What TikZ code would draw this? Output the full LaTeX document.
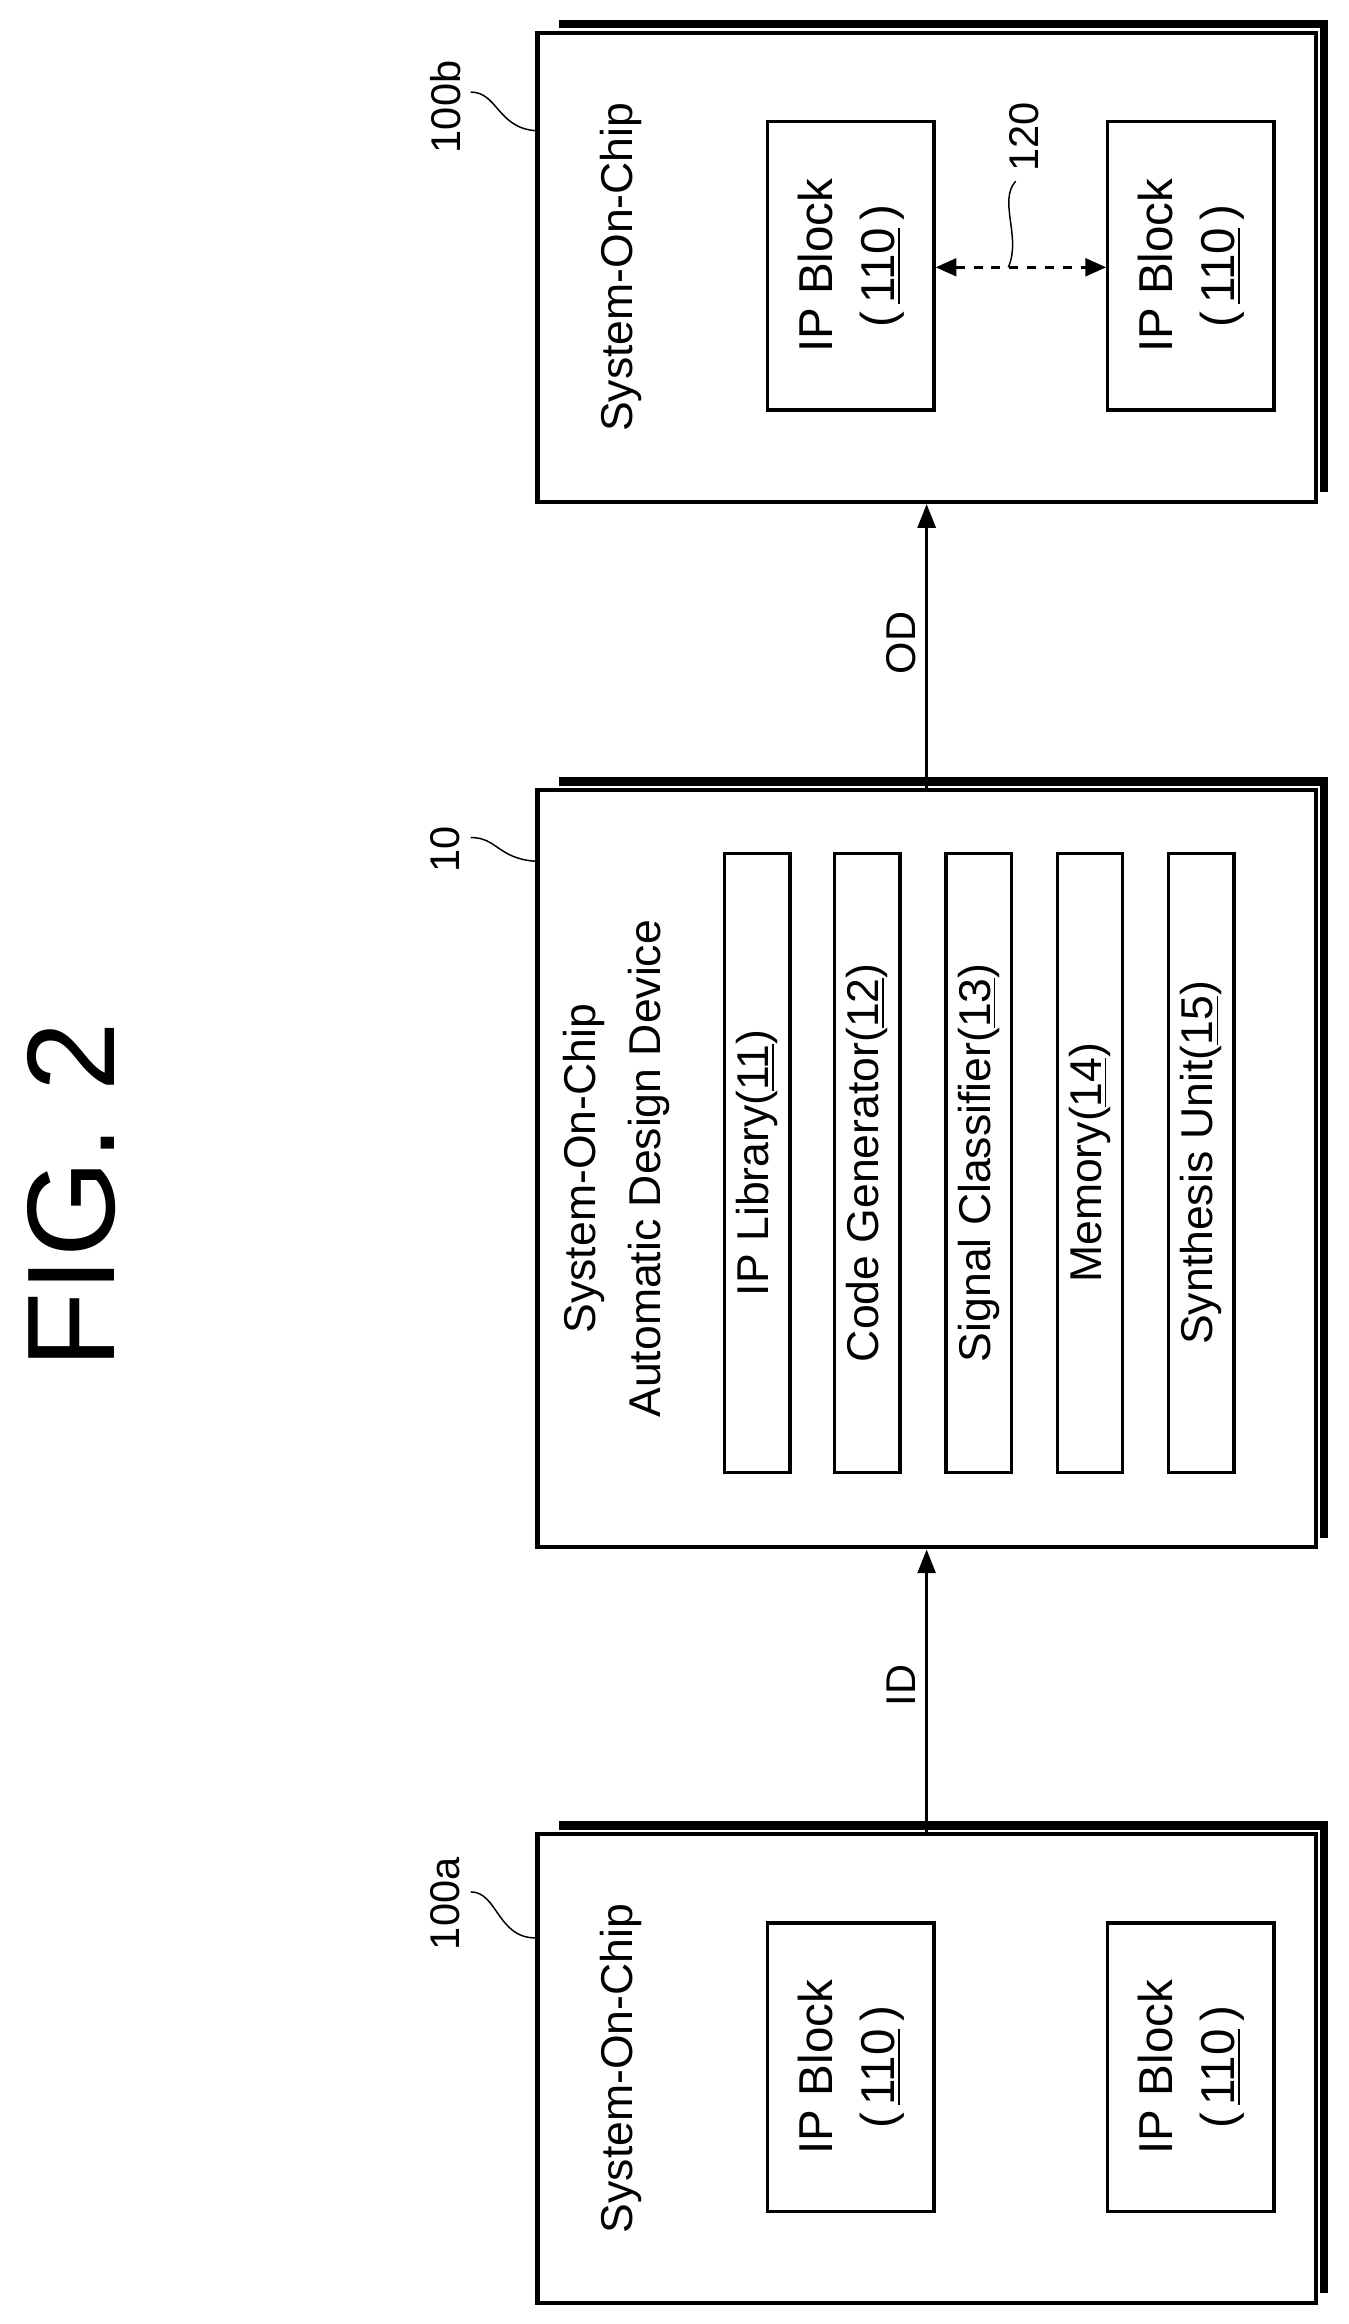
\documentclass[tikz,border=0pt]{standalone}
\usepackage{fontspec}
\setmainfont{Liberation Sans}
\usetikzlibrary{arrows.meta}
\begin{document}
\begin{tikzpicture}[x=0.5pt,y=-0.5pt,
  box/.style={draw,line width=1.4pt},
  shadow/.style={line width=2.8pt},
  inner/.style={draw,line width=1.1pt,inner sep=0pt},
  lbl/.style={rotate=90,font=\fontsize{15}{17}\selectfont},
  ref/.style={rotate=90,font=\fontsize{14}{16}\selectfont},
  lead/.style={line width=0.5pt},
  arr/.style={line width=1.1pt,-{Triangle[length=8pt,width=6pt]}}]
\useasboundingbox (0,0) rectangle (908,1565);
\node[rotate=90,font=\fontsize{42}{48}\selectfont] (fig) at (48,805) {FIG.\ 2};
% boxes
\newcommand\socbox[5]{%
  \node[box,minimum width=262pt,minimum height=#4,inner sep=0pt] (#1) at (624,#2) {};
  \draw[shadow] ([xshift=8pt,yshift=2.2pt]#1.north west) -- ([xshift=2.2pt,yshift=2.2pt]#1.north east) -- ([xshift=2.2pt,yshift=4pt]#1.south east);
  \node[ref] (#1l) at (#3) {#5};}
\socbox{b}{180}{300,72}{158pt}{100b}
\socbox{d}{787}{300,572}{255pt}{10}
\socbox{a}{1393}{300,1282}{158pt}{100a}
\draw[lead] (317,62) .. controls (335,62) and (335,86) .. (b.west|-0,88);
\draw[lead] (317,564) .. controls (335,564) and (335,578) .. (d.west|-0,580);
\draw[lead] (317,1274) .. controls (335,1274) and (335,1305) .. (a.west|-0,1305);
% 100b contents
\node[lbl] (bt) at (418,180) {System-On-Chip};
\newcommand\ipb[3]{\node[inner,minimum width=56pt,minimum height=97pt] (#1) at (#2,#3) {};
  \node[rotate=90,align=center,font=\fontsize{16}{21}\selectfont] at (#2,#3) {IP Block\\(\,\underline{110}\,)};}
\ipb{b1}{573}{179}
\ipb{b2}{802}{179}
\draw[line width=0.9pt,dashed,{Triangle[length=7pt,width=6pt]}-{Triangle[length=7pt,width=6pt]}] (b1.east|-0,180) -- (b2.west|-0,180);
\node[ref] (r120) at (690,92) {120};
\coordinate (c120) at (679,180);
\draw[lead] (684,122) .. controls (672,135) and (688,160) .. (c120);
% 10 contents
\node[lbl,align=center,font=\fontsize{15}{22}\selectfont] (dt) at (415,787) {System-On-Chip\\Automatic Design Device};
\foreach \n/\x/\t in {i1/510/{IP Library(\underline{11})},i2/584/{Code Generator(\underline{12})},i3/659/{Signal Classifier(\underline{13})},i4/734/{Memory(\underline{14})},i5/809/{Synthesis Unit(\underline{15})}}{
  \node[inner,minimum width=208.5pt,minimum height=22pt,rotate=90,font=\fontsize{15}{17}\selectfont] (\n) at (\x,783) {\t};}
% 100a contents
\node[lbl] (at) at (418,1393) {System-On-Chip};
\ipb{a1}{573}{1392}
\ipb{a2}{802}{1392}
% arrows
\draw[arr] (a.north) -- (d.south);
\draw[arr] (d.north) -- (b.south);
\node[rotate=90,font=\fontsize{14}{16}\selectfont] (id) at (607,1135) {ID};
\node[rotate=90,font=\fontsize{14}{16}\selectfont] (od) at (607,433) {OD};
\end{tikzpicture}
\end{document}
